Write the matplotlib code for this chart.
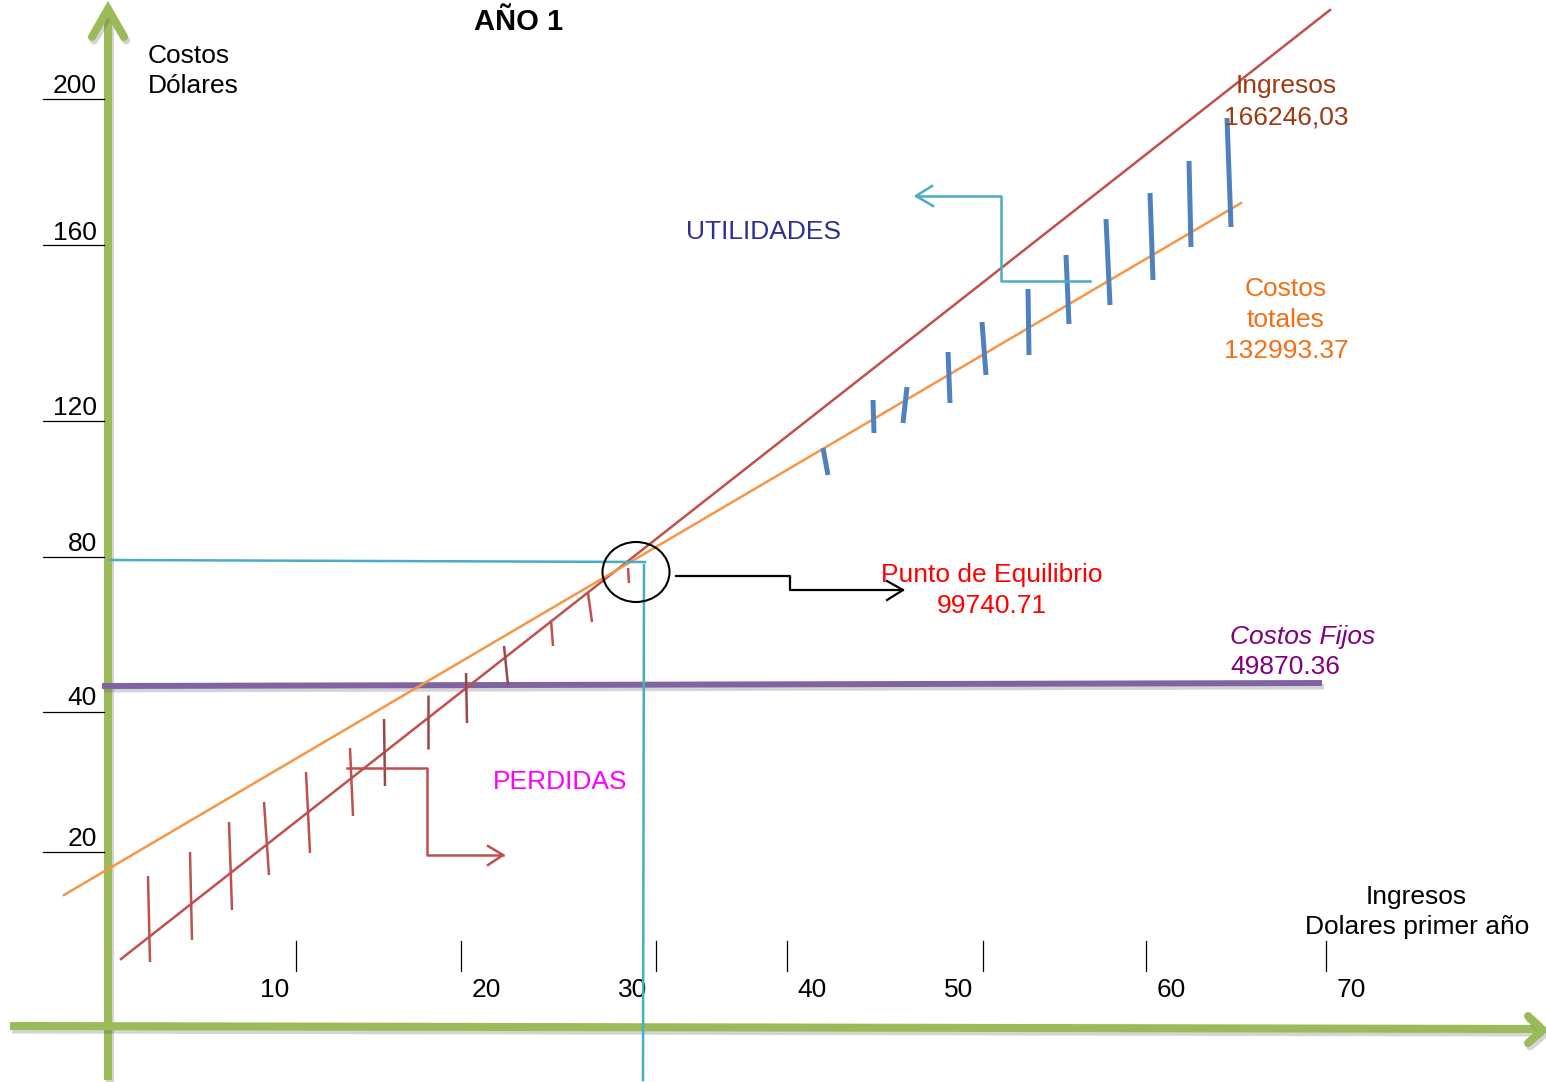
import matplotlib.pyplot as plt
import matplotlib.patheffects as pe
from matplotlib.patches import Ellipse
from matplotlib.collections import LineCollection

plt.rcParams['font.family'] = ['Liberation Sans', 'DejaVu Sans']

# drawing space is the picture itself: x to the right, y downwards (pixels)
W, H = 1546, 1082

# axis arrows
eje_y_x = [108, 108]
eje_y_y = [1080, 12]
eje_y_punta_x = [92, 108, 124]
eje_y_punta_y = [37, 9, 37]
eje_x_x = [10, 1541]
eje_x_y = [1026, 1029]
eje_x_punta_x = [1528, 1543, 1528]
eje_x_punta_y = [1016, 1030, 1043]

# y ticks (short black lines) and their labels
y_ticks_pos = [99, 245, 421, 557, 712, 852]
y_ticks_lab = ["200", "160", "120", "80", "40", "20"]
y_ticks_base = [93, 240, 415, 551, 705, 846]

# x ticks
x_ticks_pos = [296, 461, 656, 787, 983, 1146, 1326]
x_ticks_lab = ["10", "20", "30", "40", "50", "60", "70"]
x_ticks_lab_x = [275, 486, 633, 812, 959, 1171, 1351]

# main lines
ingresos_x = [121, 1330]
ingresos_y = [959, 10]
costos_tot_x = [64, 1241]
costos_tot_y = [895, 203]
costos_fijos_x = [102, 1322]
costos_fijos_y = [686, 683]
equil_h_x = [110, 645]
equil_h_y = [560, 562]
equil_v_x = [644, 643]
equil_v_y = [565, 1080]

# hatch marks over the loss zone (x0, y0, x1, y1)
perdidas_marcas = [
    (148, 876, 150, 962), (190, 852, 192, 940), (229, 822, 232, 910),
    (264, 802, 269, 875), (306, 772, 310, 853), (350, 748, 353, 816),
    (384, 719, 385, 786), (428, 695, 428, 749), (466, 673, 467, 723),
    (504, 646, 508, 685), (551, 620, 553, 646), (588, 593, 592, 622),
    (628, 568, 629, 583),
]
perdidas_oscuras = [6, 7, 8, 9]

# hatch marks over the profit zone
utilidades_marcas = [
    (823, 448, 828, 475), (873, 400, 874, 433), (907, 387, 903, 423),
    (948, 352, 950, 403), (982, 322, 986, 375), (1028, 289, 1029, 355),
    (1066, 255, 1069, 324), (1106, 219, 1110, 305), (1150, 193, 1153, 280),
    (1189, 161, 1191, 247), (1227, 118, 1231, 227),
]

# arrows with open heads
flecha_equil_x = [676, 790, 790, 903]
flecha_equil_y = [576, 576, 590, 590]
flecha_equil_punta_x = [887, 903, 887]
flecha_equil_punta_y = [581, 590, 600]
flecha_util_x = [1090, 1001, 1001, 916]
flecha_util_y = [281, 281, 196, 196]
flecha_util_punta_x = [932, 916, 933]
flecha_util_punta_y = [186, 196, 206]
flecha_perd_x = [347, 427, 427, 503]
flecha_perd_y = [768, 768, 855, 855]
flecha_perd_punta_x = [488, 503, 488]
flecha_perd_punta_y = [846, 855, 865]

verde = "#9bbb59"
rojo = "#c0504d"
naranja = "#f79646"
morado = "#8064a2"
cian = "#4bacc6"
azul = "#4f81bd"

fig = plt.figure(figsize=(W / 100, H / 100), dpi=100)
ax = fig.add_axes([0, 0, 1, 1])
ax.set_xlim(0, W)
ax.set_ylim(H, 0)
ax.axis("off")

sombra = [pe.SimpleLineShadow(offset=(1.5, -2.5), alpha=0.25, shadow_color="#555555"), pe.Normal()]

# green axes
ax.plot(eje_y_x, eje_y_y, color=verde, lw=5.8, solid_capstyle="butt", path_effects=sombra, zorder=2)
ax.plot(eje_y_punta_x, eje_y_punta_y, color=verde, lw=5.8, solid_capstyle="round",
        solid_joinstyle="miter", path_effects=sombra, zorder=2)
ax.plot(eje_x_x, eje_x_y, color=verde, lw=5.8, solid_capstyle="butt", path_effects=sombra, zorder=2)
ax.plot(eje_x_punta_x, eje_x_punta_y, color=verde, lw=5.8, solid_capstyle="round",
        solid_joinstyle="miter", path_effects=sombra, zorder=2)

# ticks
for y, lab, yb in zip(y_ticks_pos, y_ticks_lab, y_ticks_base):
    ax.plot([43, 104], [y, y], color="black", lw=0.9, zorder=3)
    ax.text(97, yb, lab, ha="right", va="baseline", fontsize=19)
for x, lab, xl in zip(x_ticks_pos, x_ticks_lab, x_ticks_lab_x):
    ax.plot([x, x], [941, 971], color="black", lw=0.9, zorder=3)
    ax.text(xl, 997, lab, ha="center", va="baseline", fontsize=19)

# lines
ax.plot(costos_fijos_x, costos_fijos_y, color=morado, lw=4.3, solid_capstyle="butt",
        path_effects=sombra, zorder=4)
ax.plot(ingresos_x, ingresos_y, color=rojo, lw=1.8, zorder=5)
ax.plot(costos_tot_x, costos_tot_y, color=naranja, lw=1.8, zorder=5)
ax.plot(equil_h_x, equil_h_y, color=cian, lw=1.8, zorder=5)
ax.plot(equil_v_x, equil_v_y, color=cian, lw=1.8, zorder=5)

# hatch marks
segs = [[(a, b), (c, d)] for a, b, c, d in perdidas_marcas]
cols = ["#9b4747" if i in perdidas_oscuras else rojo for i in range(len(segs))]
ax.add_collection(LineCollection(segs, colors=cols, linewidths=1.8, zorder=6))
segs = [[(a, b), (c, d)] for a, b, c, d in utilidades_marcas]
ax.add_collection(LineCollection(segs, colors=azul, linewidths=3.6, zorder=6))

# break-even circle
ax.add_patch(Ellipse((636, 572), 67, 60, fill=False, edgecolor="black", lw=1.5, zorder=7))

# arrows
ax.plot(flecha_equil_x, flecha_equil_y, color="black", lw=1.6, zorder=7)
ax.plot(flecha_equil_punta_x, flecha_equil_punta_y, color="black", lw=1.6, zorder=7)
ax.plot(flecha_util_x, flecha_util_y, color=cian, lw=1.8, zorder=7)
ax.plot(flecha_util_punta_x, flecha_util_punta_y, color=cian, lw=1.8, zorder=7)
ax.plot(flecha_perd_x, flecha_perd_y, color=rojo, lw=1.8, zorder=7)
ax.plot(flecha_perd_punta_x, flecha_perd_punta_y, color=rojo, lw=1.8, zorder=7)

# texts
ax.text(519, 30, "AÑO 1", ha="center", va="baseline", fontsize=21, fontweight="bold")
ax.text(148, 63, "Costos", ha="left", va="baseline", fontsize=19)
ax.text(148, 93, "Dólares", ha="left", va="baseline", fontsize=19)
ax.text(1286, 93, "Ingresos", ha="center", va="baseline", fontsize=19, color="#9c3b10", zorder=8)
ax.text(1286, 125, "166246,03", ha="center", va="baseline", fontsize=19, color="#9c3b10", zorder=8)
ax.text(763, 239, "UTILIDADES", ha="center", va="baseline", fontsize=19, color="#2e3192")
ax.text(1286, 296, "Costos", ha="center", va="baseline", fontsize=19, color="#f36f13")
ax.text(1286, 327, "totales", ha="center", va="baseline", fontsize=19, color="#f36f13")
ax.text(1286, 358, "132993.37", ha="center", va="baseline", fontsize=19, color="#f36f13")
ax.text(992, 582, "Punto de Equilibrio", ha="center", va="baseline", fontsize=19, color="#ff0000", zorder=8)
ax.text(992, 613, "99740.71", ha="center", va="baseline", fontsize=19, color="#ff0000")
ax.text(1230, 644, "Costos Fijos", ha="left", va="baseline", fontsize=19, color="#800080", style="italic")
ax.text(1230, 674, "49870.36", ha="left", va="baseline", fontsize=19, color="#800080")
ax.text(560, 789, "PERDIDAS", ha="center", va="baseline", fontsize=19, color="#ff00ff")
ax.text(1416, 904, "Ingresos", ha="center", va="baseline", fontsize=19)
ax.text(1417, 934, "Dolares primer año", ha="center", va="baseline", fontsize=19)

fig.savefig("out.png", dpi=100)
